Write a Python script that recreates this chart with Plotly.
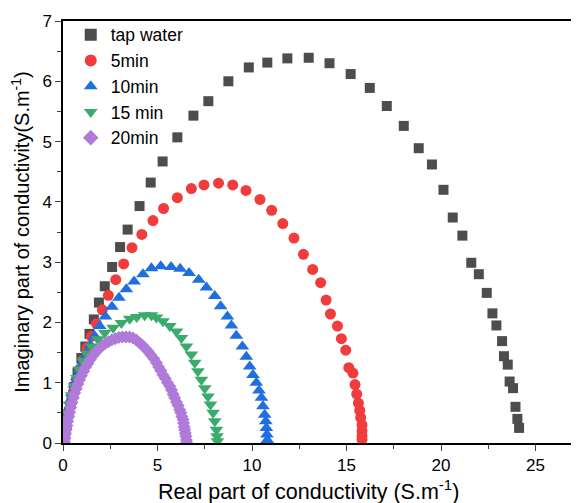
import plotly.graph_objects as go

tap_x = [0.1, 0.2, 0.32, 0.45, 0.6, 0.77, 0.97, 1.18, 1.4, 1.63, 1.9, 2.21, 2.6, 3.02, 3.42, 4.05, 4.64, 5.27, 6.05, 6.9, 7.69, 8.75, 9.83, 10.81, 11.87, 13.0, 14.1, 15.22, 16.23, 17.13, 18.03, 18.82, 19.52, 20.13, 20.62, 21.13, 21.6, 22.0, 22.42, 22.72, 22.93, 23.23, 23.33, 23.53, 23.63, 23.81, 23.94, 24.04, 24.13]
tap_y = [0.15, 0.32, 0.52, 0.72, 0.93, 1.17, 1.41, 1.6, 1.81, 2.05, 2.33, 2.6, 2.92, 3.25, 3.54, 3.93, 4.32, 4.67, 5.07, 5.43, 5.67, 6.0, 6.23, 6.31, 6.38, 6.39, 6.3, 6.12, 5.89, 5.59, 5.26, 4.89, 4.62, 4.2, 3.74, 3.44, 2.99, 2.8, 2.49, 2.15, 1.95, 1.69, 1.44, 1.30, 1.02, 0.91, 0.60, 0.40, 0.25]

m5_x = [0.1, 0.18, 0.28, 0.4, 0.55, 0.71, 0.88, 1.06, 1.27, 1.5, 1.77, 2.08, 2.4, 2.79, 3.21, 3.65, 4.17, 4.76, 5.32, 6.05, 6.79, 7.46, 8.23, 8.98, 9.68, 10.42, 11.04, 11.63, 12.22, 12.72, 13.21, 13.63, 13.92, 14.15, 14.52, 14.73, 14.96, 15.12, 15.34, 15.45, 15.54, 15.63, 15.7, 15.75, 15.82, 15.82, 15.82, 15.82]
m5_y = [0.12, 0.28, 0.46, 0.64, 0.85, 1.05, 1.22, 1.38, 1.58, 1.77, 1.98, 2.21, 2.45, 2.71, 2.97, 3.24, 3.46, 3.69, 3.89, 4.07, 4.22, 4.28, 4.31, 4.28, 4.19, 4.04, 3.86, 3.64, 3.40, 3.13, 2.88, 2.66, 2.37, 2.14, 1.94, 1.73, 1.54, 1.25, 1.16, 0.97, 0.81, 0.66, 0.54, 0.42, 0.30, 0.20, 0.12, 0.06]

m10_x = [0.02, 0.04, 0.08, 0.14, 0.21, 0.29, 0.38, 0.48, 0.6, 0.74, 0.88, 1.06, 1.24, 1.45, 1.68, 1.94, 2.24, 2.59, 2.96, 3.35, 3.76, 4.23, 4.68, 5.17, 5.72, 6.2, 6.67, 7.18, 7.59, 8.03, 8.34, 8.7, 8.91, 9.17, 9.49, 9.7, 9.88, 10.05, 10.23, 10.37, 10.5, 10.58, 10.67, 10.73, 10.76, 10.79, 10.81]
m10_y = [0.05, 0.11, 0.22, 0.33, 0.45, 0.57, 0.7, 0.83, 0.97, 1.10, 1.22, 1.35, 1.48, 1.62, 1.77, 1.94, 2.10, 2.26, 2.41, 2.55, 2.68, 2.80, 2.90, 2.93, 2.92, 2.89, 2.82, 2.71, 2.58, 2.44, 2.27, 2.10, 1.95, 1.78, 1.60, 1.43, 1.27, 1.13, 1.0, 0.87, 0.75, 0.61, 0.47, 0.36, 0.25, 0.14, 0.05]

m15_x = [0.02, 0.05, 0.1, 0.16, 0.24, 0.34, 0.46, 0.6, 0.74, 0.87, 1.06, 1.27, 1.53, 1.85, 2.21, 2.65, 3.09, 3.53, 3.9, 4.32, 4.68, 4.94, 5.29, 5.65, 6.0, 6.26, 6.53, 6.79, 6.97, 7.14, 7.32, 7.5, 7.67, 7.8, 7.94, 8.03, 8.12, 8.15, 8.17]
m15_y = [0.05, 0.13, 0.24, 0.36, 0.5, 0.64, 0.79, 0.94, 1.08, 1.22, 1.36, 1.48, 1.60, 1.72, 1.83, 1.91, 1.99, 2.06, 2.09, 2.12, 2.12, 2.08, 2.02, 1.94, 1.85, 1.74, 1.60, 1.47, 1.33, 1.19, 1.05, 0.91, 0.77, 0.64, 0.50, 0.36, 0.22, 0.11, 0.03]

m20_x = [0.08, 0.1, 0.13, 0.17, 0.21, 0.25, 0.3, 0.35, 0.41, 0.48, 0.55, 0.62, 0.7, 0.79, 0.88, 0.98, 1.09, 1.2, 1.32, 1.45, 1.59, 1.74, 1.9, 2.06, 2.23, 2.4, 2.58, 2.76, 2.95, 3.14, 3.33, 3.52, 3.7, 3.88, 4.06, 4.2, 4.35, 4.5, 4.65, 4.8, 4.94, 5.06, 5.18, 5.29, 5.41, 5.53, 5.65, 5.74, 5.83, 5.91, 6.0, 6.09, 6.17, 6.23, 6.29, 6.35, 6.38, 6.41, 6.44, 6.47, 6.5, 6.53, 6.54]
m20_y = [0.02, 0.08, 0.15, 0.22, 0.29, 0.36, 0.44, 0.51, 0.59, 0.67, 0.75, 0.83, 0.9, 0.98, 1.05, 1.12, 1.19, 1.26, 1.32, 1.39, 1.45, 1.51, 1.56, 1.61, 1.65, 1.68, 1.71, 1.73, 1.75, 1.76, 1.76, 1.76, 1.74, 1.71, 1.66, 1.62, 1.57, 1.52, 1.46, 1.40, 1.33, 1.26, 1.2, 1.13, 1.07, 1.0, 0.94, 0.88, 0.81, 0.75, 0.68, 0.62, 0.55, 0.5, 0.44, 0.39, 0.33, 0.27, 0.22, 0.16, 0.11, 0.05, 0.01]

x_title = "Real part of conductivity (S.m<sup>-1</sup>)"
y_title = "Imaginary part of conductivity(S.m<sup>-1</sup>)"

series = [
    ("tap water", tap_x, tap_y, "square", "#4d4d4d", 10),
    ("5min", m5_x, m5_y, "circle", "#f03c3c", 11),
    ("10min", m10_x, m10_y, "triangle-up", "#1f6fe0", 12),
    ("15 min", m15_x, m15_y, "triangle-down", "#3aab6b", 12),
    ("20min", m20_x, m20_y, "diamond", "#b07ad9", 10),
]

fig = go.Figure()
for name, xs, ys, sym, col, sz in series:
    fig.add_trace(go.Scatter(x=xs, y=ys, mode="markers", name=name,
                             marker=dict(symbol=sym, color=col, size=sz, line=dict(width=0))))

font = "Liberation Sans, Arial, sans-serif"
# page body has an 8px margin, so the figure is shrunk by 8px to fit the 579x503 window
fig.update_layout(
    width=571, height=495,
    margin=dict(l=55, r=0, t=13, b=60, autoexpand=False),
    paper_bgcolor="white", plot_bgcolor="white",
    font=dict(family=font, size=16, color="black"),
    showlegend=True,
    legend=dict(x=0.015, y=1.01, xanchor="left", yanchor="top", bgcolor="rgba(0,0,0,0)",
                font=dict(size=17.5), itemsizing="constant", tracegroupgap=0),
    xaxis=dict(range=[0, 27.3], tickvals=[0, 5, 10, 15, 20, 25], ticks="outside", ticklen=6,
               tickwidth=1.2, minor=dict(dtick=2.5, ticks="outside", ticklen=4, tickwidth=1, tick0=0),
               showline=True, linecolor="black", linewidth=1.5, mirror=True, showgrid=False,
               zeroline=False, tickfont=dict(size=17), automargin=False),
    yaxis=dict(range=[0, 7], dtick=1, ticks="outside", ticklen=6, tickwidth=1.2,
               minor=dict(dtick=0.5, ticks="outside", ticklen=4, tickwidth=1),
               showline=True, linecolor="black", linewidth=1.5, showgrid=False, zeroline=False,
               tickfont=dict(size=17), automargin=False,
               title=dict(text=y_title, font=dict(size=20), standoff=8)),
    annotations=[dict(text=x_title, xref="paper", yref="paper", x=0.475, y=-0.112,
                      xanchor="center", yanchor="middle", showarrow=False,
                      font=dict(size=21.5, family=font, color="black"))],
)
fig.write_html("out.html")
